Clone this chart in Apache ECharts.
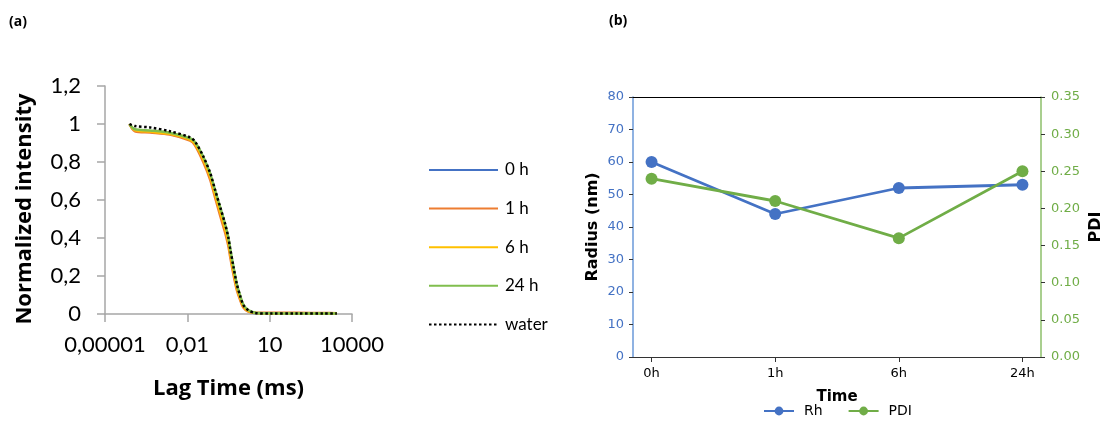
<!DOCTYPE html>
<html>
<head>
<meta charset="utf-8">
<script src="https://cdn.jsdelivr.net/npm/echarts@6/dist/echarts.min.js"></script>
<style>
    html, body { margin: 0; background: #fff; }
    #chart { width: 1101px; height: 421px; }
</style>
</head>
<body>
<div id="chart"></div>
<script>
// (a) correlation curves, lag time in ms
const lagTime = [0.000078, 0.000123, 0.00044, 0.0023, 0.0126, 0.019, 0.038, 0.068, 0.102, 0.155, 0.234, 0.31, 0.36, 0.48, 0.63, 0.83, 1.1, 1.66, 2.95, 10, 100, 1000, 2800]
const int0h  = [1.0, 0.967, 0.959, 0.947, 0.916, 0.894, 0.812, 0.720, 0.630, 0.538, 0.450, 0.378, 0.323, 0.223, 0.140, 0.084, 0.039, 0.016, 0.004, 0.002, 0.001, 0.001, 0.001]
const int1h  = [1.0, 0.962, 0.955, 0.944, 0.912, 0.888, 0.800, 0.706, 0.614, 0.520, 0.432, 0.360, 0.305, 0.207, 0.128, 0.076, 0.034, 0.013, 0.006, 0.006, 0.006, 0.005, 0.004]
const int6h  = [1.0, 0.968, 0.960, 0.948, 0.918, 0.896, 0.814, 0.722, 0.632, 0.540, 0.452, 0.380, 0.325, 0.225, 0.142, 0.086, 0.040, 0.016, 0.005, 0.003, 0.003, 0.003, 0.002]
const int24h = [1.0, 0.972, 0.966, 0.954, 0.925, 0.905, 0.828, 0.740, 0.653, 0.565, 0.477, 0.405, 0.350, 0.249, 0.161, 0.100, 0.050, 0.021, 0.007, 0.004, 0.003, 0.003, 0.002]
const water  = [1.0, 0.989, 0.982, 0.962, 0.930, 0.908, 0.830, 0.742, 0.655, 0.566, 0.478, 0.405, 0.348, 0.248, 0.160, 0.098, 0.047, 0.020, 0.005, 0.002, 0.002, 0.002, 0.002]
const lagTicks = [0.00001, 0.01, 10, 10000]

// (b) size and PDI over time
const times  = ['0h', '1h', '6h', '24h']
const radius = [60, 44, 52, 53]
const pdi    = [0.24, 0.21, 0.16, 0.25]

const fontA = 'Lato'
const fontTitle = 'Open Sans'
const fontB = 'DejaVu Sans'

let chart = echarts.init(document.getElementById('chart'))

// 把数组拼成 [x, y]
const pairs = (xs, ys) => xs.map((x, i) => [x, ys[i]])
const commaNum = v => String(v).replace('.', ',')

const curve = (name, color, values, dotted) => ({
    name: name,
    type: 'line',
    xAxisIndex: 0,
    yAxisIndex: 0,
    data: pairs(lagTime, values),
    smooth: 0.3,
    symbol: 'none',
    lineStyle: dotted
        ? { color: color, width: 2.5, type: [2.5, 2.5] }
        : { color: color, width: 2.5 },
    itemStyle: { color: color },
    z: dotted ? 5 : 3
})

let option = {
    animation: false,
    graphic: [
        { type: 'text', left: 9, top: 15, style: { text: '(a)', fontFamily: fontTitle, fontSize: 14, fontWeight: 'bold', fill: '#000' } },
        { type: 'text', left: 609, top: 14, style: { text: '(b)', fontFamily: fontTitle, fontSize: 14, fontWeight: 'bold', fill: '#000' } }
    ],
    grid: [
        { left: 105, top: 86, width: 247, height: 228, outerBoundsMode: 'none' },
        { left: 633, top: 97, width: 408, height: 260, outerBoundsMode: 'none' }
    ],
    legend: [
        {
            data: ['0 h', '1 h', '6 h', '24 h', 'water'],
            orient: 'vertical',
            left: 428,
            top: 161,
            padding: 0,
            itemWidth: 69,
            itemHeight: 14,
            itemGap: 20.6,
            itemStyle: { opacity: 0 },
            textStyle: { fontFamily: fontA, fontSize: 17, color: '#000', lineHeight: 18, padding: [0, 0, 0, 2] }
        },
        {
            data: ['Rh', 'PDI'],
            left: 763,
            top: 404,
            padding: 0,
            itemWidth: 30,
            itemHeight: 11,
            itemGap: 25,
            textStyle: { fontFamily: fontB, fontSize: 14, color: '#000', padding: [0, 0, 0, 5] }
        }
    ],
    xAxis: [
        {
            type: 'log',
            gridIndex: 0,
            min: 0.00001,
            max: 10000,
            name: 'Lag Time (ms)',
            nameLocation: 'middle',
            nameGap: 64,
            nameTextStyle: { fontFamily: fontTitle, fontSize: 22, fontWeight: 'bold', color: '#000' },
            axisLine: { lineStyle: { color: '#a6a6a6', width: 1.5 } },
            axisTick: { customValues: lagTicks, length: 8, lineStyle: { color: '#a6a6a6', width: 1.5 } },
            axisLabel: {
                customValues: lagTicks,
                margin: 20,
                fontFamily: fontA,
                fontSize: 22,
                color: '#000',
                formatter: v => commaNum(v.toFixed(Math.max(0, -Math.round(Math.log10(v)))))
            },
            splitLine: { show: false },
            minorTick: { show: false }
        },
        {
            type: 'value',
            gridIndex: 1,
            min: -0.15,
            max: 3.15,
            name: 'Time',
            nameLocation: 'middle',
            nameGap: 33,
            nameTextStyle: { fontFamily: fontB, fontSize: 15, fontWeight: 'bold', color: '#000' },
            axisLine: { onZero: false, lineStyle: { color: '#333', width: 1.2 } },
            axisTick: { customValues: [0, 1, 2, 3], length: 5, lineStyle: { color: '#333' } },
            axisLabel: {
                customValues: [0, 1, 2, 3],
                margin: 10,
                fontFamily: fontB,
                fontSize: 13,
                color: '#000',
                formatter: v => times[Math.round(v)]
            },
            splitLine: { show: false }
        },
        {
            type: 'value',
            gridIndex: 1,
            position: 'top',
            min: -0.15,
            max: 3.15,
            axisLine: { onZero: false, lineStyle: { color: '#000', width: 1.2 } },
            axisTick: { show: false },
            axisLabel: { show: false },
            splitLine: { show: false }
        }
    ],
    yAxis: [
        {
            type: 'value',
            gridIndex: 0,
            min: 0,
            max: 1.2,
            interval: 0.2,
            name: 'Normalized intensity',
            nameLocation: 'middle',
            nameGap: 69,
            nameTextStyle: { fontFamily: fontTitle, fontSize: 22, fontWeight: 'bold', color: '#000', padding: [0, 18, 0, 0] },
            axisLine: { show: true, onZero: false, lineStyle: { color: '#a6a6a6', width: 1.5 } },
            axisTick: { show: true, length: 8, lineStyle: { color: '#a6a6a6', width: 1.5 } },
            axisLabel: {
                margin: 24,
                fontFamily: fontA,
                fontSize: 22,
                color: '#000',
                formatter: v => commaNum(+v.toFixed(1))
            },
            splitLine: { show: false }
        },
        {
            type: 'value',
            gridIndex: 1,
            position: 'left',
            min: 0,
            max: 80,
            interval: 10,
            name: 'Radius (nm)',
            nameLocation: 'middle',
            nameGap: 32,
            nameTextStyle: { fontFamily: fontB, fontSize: 16, fontWeight: 'bold', color: '#000' },
            axisLine: { show: true, onZero: false, lineStyle: { color: '#6a98d8', width: 1.5 } },
            axisTick: { show: true, length: 4, lineStyle: { color: '#333' } },
            axisLabel: { margin: 9, fontFamily: fontB, fontSize: 13, color: '#4472C4' },
            splitLine: { show: false }
        },
        {
            type: 'value',
            gridIndex: 1,
            position: 'right',
            min: 0,
            max: 0.35,
            interval: 0.05,
            name: 'PDI',
            nameLocation: 'middle',
            nameRotate: 90,
            nameGap: 47,
            nameTextStyle: { fontFamily: fontB, fontSize: 16, fontWeight: 'bold', color: '#000' },
            axisLine: { show: true, onZero: false, lineStyle: { color: '#8cbf6a', width: 1.5 } },
            axisTick: { show: true, length: 4, lineStyle: { color: '#333' } },
            axisLabel: { margin: 10, fontFamily: fontB, fontSize: 13, color: '#70AD47', formatter: v => v.toFixed(2) },
            splitLine: { show: false }
        }
    ],
    series: [
        curve('0 h', '#4472C4', int0h),
        curve('1 h', '#ED7D31', int1h),
        curve('6 h', '#FFC000', int6h),
        curve('24 h', '#80BE4E', int24h),
        curve('water', '#000', water, true),
        {
            name: 'Rh',
            type: 'line',
            xAxisIndex: 1,
            yAxisIndex: 1,
            data: pairs([0, 1, 2, 3], radius),
            symbol: 'circle',
            symbolSize: 12,
            lineStyle: { color: '#4472C4', width: 2.8 },
            itemStyle: { color: '#4472C4' }
        },
        {
            name: 'PDI',
            type: 'line',
            xAxisIndex: 1,
            yAxisIndex: 2,
            data: pairs([0, 1, 2, 3], pdi),
            symbol: 'circle',
            symbolSize: 12,
            lineStyle: { color: '#70AD47', width: 2.8 },
            itemStyle: { color: '#70AD47' }
        }
    ]
}

chart.setOption(option)
</script>
</body>
</html>
